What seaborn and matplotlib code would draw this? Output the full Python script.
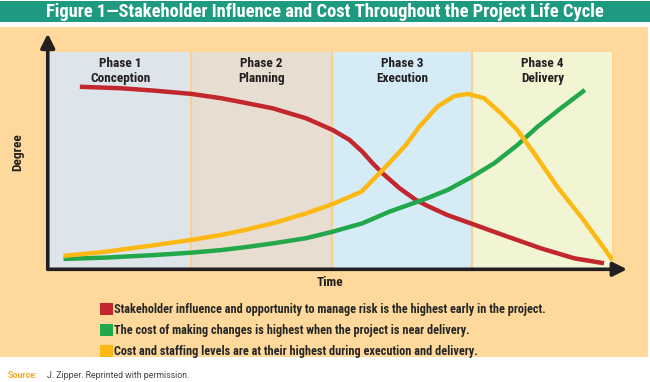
import numpy as np
import pandas as pd
import matplotlib.pyplot as plt
import seaborn as sns
from matplotlib.patches import Rectangle, Patch

# time axis runs 0..100 (four phases of 25 each), degree 0..100
phases = ["Phase 1\nConception", "Phase 2\nPlanning", "Phase 3\nExecution", "Phase 4\nDelivery"]
phase_edges = [0, 25, 50, 75, 100]

red_t = [5.3, 12.7, 18.6, 25.1, 30.4, 34.6, 39.6, 45.5, 50.2, 53.2, 55.5, 57.3, 59.1, 62.1, 65.0,
         67.0, 70.6, 75.0, 81.3, 87.2, 93.1, 98.4]
red_d = [83.9, 83.2, 82.1, 80.6, 78.6, 76.5, 73.9, 69.3, 63.9, 59.3, 53.8, 48.5, 43.8, 36.9, 31.5,
         28.8, 24.5, 20.4, 14.5, 9.1, 4.5, 2.2]

green_t = [2.4, 9.8, 18.6, 25.1, 30.4, 34.6, 39.6, 45.5, 50.2, 55.5, 60.3, 66.5, 70.6, 75.0,
           78.9, 83.0, 86.6, 90.7, 95.0]
green_d = [4.2, 4.8, 6.0, 7.1, 8.3, 9.6, 11.4, 13.8, 16.8, 20.7, 26.1, 31.8, 36.1, 42.3,
           48.5, 56.9, 65.4, 73.9, 82.4]

yellow_t = [2.4, 9.8, 18.6, 25.1, 30.4, 34.6, 39.6, 45.5, 50.2, 55.3, 59.1, 63.2, 65.6, 68.8,
            71.8, 74.2, 77.1, 80.1, 83.0, 86.0, 90.1, 94.3, 97.8, 99.9]
yellow_d = [5.6, 7.5, 10.6, 13.0, 15.3, 17.6, 20.7, 25.3, 29.6, 35.3, 45.4, 56.9, 65.4, 74.7,
            79.6, 80.6, 78.6, 71.6, 63.9, 53.1, 37.6, 23.8, 11.4, 3.7]

legend_text = [
    "Stakeholder influence and opportunity to manage risk is the highest early in the project.",
    "The cost of making changes is highest when the project is near delivery.",
    "Cost and staffing levels are at their highest during execution and delivery.",
]

RED, GREEN, YELLOW = "#c1272d", "#22a84a", "#fdb913"
TEAL, ORANGE = "#1e9a80", "#fed99b"
band_colors = ["#dde4ea", "#e7ddd0", "#d5ecf7", "#f2f5d4"]
DARK = "#231f20"

df = pd.concat([
    pd.DataFrame({"time": red_t, "degree": red_d, "series": "red"}),
    pd.DataFrame({"time": green_t, "degree": green_d, "series": "green"}),
    pd.DataFrame({"time": yellow_t, "degree": yellow_d, "series": "yellow"}),
], ignore_index=True)

sns.set_theme(style="white")
# narrow face like the original; falls back to DejaVu Sans Condensed
plt.rcParams['font.family'] = ['Roboto Condensed', 'DejaVu Sans']
plt.rcParams['font.stretch'] = 'condensed'

W, H = 650, 382
fig = plt.figure(figsize=(W / 100, H / 100), dpi=100, facecolor="white")

def px(x, y, w, h):
    # pixel box (top-left origin) -> figure fraction box
    return (x / W, 1 - (y + h) / H, w / W, h / H)

# title bar and orange panel
x0, y0, w0, h0 = px(0, 1, 650, 21)
fig.add_artist(Rectangle((x0, y0), w0, h0, transform=fig.transFigure,
                         facecolor=TEAL, edgecolor="none", zorder=-10))
x0, y0, w0, h0 = px(0, 27, 648, 330)
fig.add_artist(Rectangle((x0, y0), w0, h0, transform=fig.transFigure,
                         facecolor=ORANGE, edgecolor="none", zorder=-10))

fig.text(0.5, 1 - 12 / H, "Figure 1\u2014Stakeholder Influence and Cost Throughout the Project Life Cycle",
         color="white", fontsize=13.3, fontweight="bold", ha="center", va="center")

ax = fig.add_axes(px(50, 52, 563, 216))
ax.set_facecolor("none")
for i in range(4):
    ax.axvspan(phase_edges[i], phase_edges[i + 1], color=band_colors[i], lw=0, zorder=0)
    ax.text((phase_edges[i] + phase_edges[i + 1]) / 2, 97.5, phases[i], ha="center", va="top",
            fontsize=9.5, fontweight="bold", color=DARK, linespacing=1.15)
for e in phase_edges[1:]:
    ax.axvline(e, color="#fbd08c", lw=1.5, zorder=1)

sns.lineplot(data=df, x="time", y="degree", hue="series", sort=False,
             palette={"red": RED, "green": GREEN, "yellow": YELLOW},
             hue_order=["red", "green", "yellow"], linewidth=3.2, legend=False, ax=ax, zorder=3,
             solid_joinstyle="round", solid_capstyle="butt")

ax.set_xlim(0, 100)
ax.set_ylim(0, 100)
for s in ax.spines.values():
    s.set_visible(False)
ax.set_xticks([])
ax.set_yticks([])
ax.set_xlabel("")
ax.set_ylabel("")

# axis arrows
arrow = dict(arrowstyle="-|>,head_length=0.7,head_width=0.35", color=DARK, lw=2.6, shrinkA=0, shrinkB=0)
ax.annotate("", xy=(-0.4, 108.5), xytext=(-0.4, -0.6), arrowprops=arrow, annotation_clip=False)
ax.annotate("", xy=(102.5, -0.6), xytext=(-0.4, -0.6), arrowprops=arrow, annotation_clip=False)

fig.text(18 / W, 1 - 152 / H, "Degree", rotation=90, ha="center", va="center",
         fontsize=9.5, fontweight="bold", color=DARK)
fig.text(330 / W, 1 - 282 / H, "Time", ha="center", va="center",
         fontsize=9.5, fontweight="bold", color=DARK)

handles = [Patch(facecolor=c, edgecolor="none") for c in (RED, GREEN, YELLOW)]
fig.legend(handles, legend_text, loc="upper left", bbox_to_anchor=(100 / W, 1 - 303 / H),
           frameon=False, handlelength=1.07, handleheight=1.15,
           handletextpad=0.1, labelspacing=0.62, borderpad=0, borderaxespad=0,
           prop={"weight": "bold", "size": 8.8, "stretch": "condensed"})

fig.text(8 / W, 1 - 375 / H, "Source:", color="#f7a823", fontsize=6.3, fontweight="bold", va="center",
         family=["Roboto", "DejaVu Sans"], fontstretch="normal")
fig.text(47 / W, 1 - 375 / H, "J. Zipper. Reprinted with permission.", color="#444444", fontsize=6.3,
         va="center", family=["Roboto", "DejaVu Sans"], fontstretch="normal")

fig.savefig("out.png", dpi=100, facecolor="white")
